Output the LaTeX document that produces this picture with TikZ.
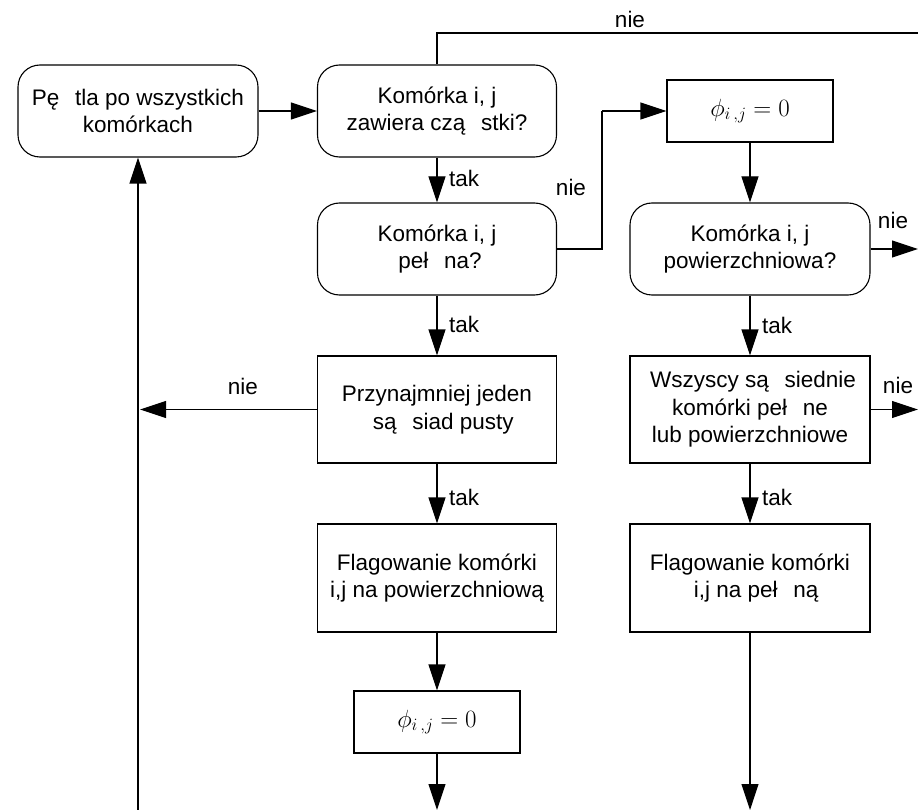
\documentclass[tikz,border=0pt]{standalone}
\usepackage{fontspec}
\setmainfont{Liberation Sans}
\usetikzlibrary{arrows.meta}
\newcommand\gapsp{\hspace{0.7em}}
\begin{document}
\begin{tikzpicture}[x=1pt,y=-1pt,
  every node/.style={font=\fontsize{22.5}{27.5}\selectfont, align=center, inner sep=0pt},
  rbox/.style={draw, line width=1.1pt, rounded corners=22pt, minimum width=239, minimum height=92},
  pbox/.style={draw, line width=1.1pt, minimum width=239, minimum height=107},
  mbox/.style={draw, line width=1.1pt, minimum width=166, minimum height=62, font=\fontsize{27}{30}\selectfont},
  link/.style={line width=1.1pt},
  flow/.style={line width=1.1pt, -{Triangle[length=26pt,width=17pt]}},
  lbl/.style={anchor=west}]
\useasboundingbox (0,0) rectangle (918,810);

% boxes
\node[rbox, minimum width=240] (A) at (138,111) {P\k{e}\gapsp tla po wszystkich\\komórkach};
\node[rbox] (B) at (437,111) {Komórka i, j\\zawiera cz\k{a}\gapsp stki?};
\node[mbox] (P1) at (750,111) {$\phi_{i\,,j} = 0$};
\node[rbox] (C) at (437,249) {Komórka i, j\\\ pe\l\gapsp na?};
\node[rbox, minimum width=240] (F) at (750,249) {Komórka i, j\\powierzchniowa?};
\node[pbox] (D) at (437,409.5) {Przynajmniej jeden\\\ \ s\k{a}\gapsp siad pusty};
\node[pbox, minimum width=240] (G) at (750,409.5) {\ Wszyscy s\k{a}\gapsp siednie\\komórki pe\l\gapsp ne\\lub powierzchniowe};
\node[pbox, minimum height=108] (E) at (437,578) {Flagowanie komórki\\i,j na powierzchniow\k{a}};
\node[pbox, minimum width=240, minimum height=108] (H) at (750,578) {Flagowanie komórki\\\ \ i,j na pe\l\gapsp n\k{a}};
\node[mbox] (P2) at (437,722) {$\phi_{i\,,j} = 0$};

% free ends
\coordinate (topL) at (437,33);
\coordinate (topR) at (918,33);
\coordinate (cR) at (602,249);
\coordinate (cUp) at (602,111);
\coordinate (fOut) at (918,249);
\coordinate (gOut) at (918,409.5);
\coordinate (dOut) at (140,409.5);
\coordinate (loopB) at (138,810);
\coordinate (p2Out) at (437,810);
\coordinate (hOut) at (750,810);

% connectors
\draw[flow] (A) -- (B);
\draw[link] (B.north) -- (topL) -- (topR);
\node at (630,19) {nie};
\draw[flow] (B) -- (C);
\node[lbl] at (449,178) {tak};
\draw[link] (C.east) -- (cR) -- (cUp);
\draw[flow] (cUp) -- (P1.west);
\node at (571,187) {nie};
\draw[flow] (P1) -- (F);
\draw[flow] (F.east) -- (fOut);
\node at (893,220) {nie};
\draw[flow] (C) -- (D);
\node[lbl] at (449,324) {tak};
\draw[flow] (F) -- (G);
\node[lbl] at (762,325) {tak};
\draw[flow] (D.west) -- (dOut);
\node at (243,386) {nie};
\draw[flow] (loopB) -- (A.south);
\draw[flow] (G.east) -- (gOut);
\node at (898,385) {nie};
\draw[flow] (D) -- (E);
\node[lbl] at (449,497) {tak};
\draw[flow] (G) -- (H);
\node[lbl] at (762,497) {tak};
\draw[flow] (E) -- (P2);
\draw[flow] (P2.south) -- (p2Out);
\draw[flow] (H.south) -- (hOut);
\end{tikzpicture}
\end{document}
